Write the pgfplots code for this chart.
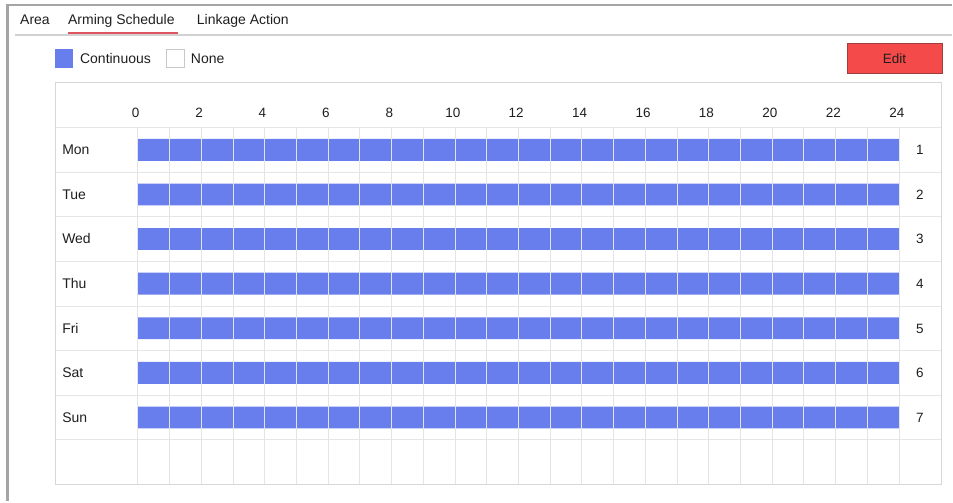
\documentclass[border=0pt]{standalone}
\usepackage{pgfplots}
\pgfplotsset{compat=1.18}
\usepackage{fontspec}
\setmainfont{Liberation Sans}
\definecolor{barblue}{RGB}{104,126,236}
\definecolor{editred}{RGB}{245,74,74}
\definecolor{editborder}{RGB}{160,62,62}
\definecolor{tabred}{RGB}{222,84,96}
\definecolor{gridc}{RGB}{230,230,230}
\definecolor{txt}{RGB}{30,30,30}
\begin{document}
\begin{tikzpicture}[x=1pt,y=1pt]
\path (0,0) rectangle (953,502);
% outer panel border
\draw[color={rgb,255:red,165;green,165;blue,165}, line width=2.2pt] (6.5,497) -- (953,497);
\draw[color={rgb,255:red,165;green,165;blue,165}, line width=2.2pt] (7.5,498) -- (7.5,0);
% tabs
\draw[color={rgb,255:red,210;green,210;blue,210}, line width=1.2pt] (15,467) -- (953,467);
\draw[tabred, line width=2pt] (68,469) -- (178,469);
\node[anchor=base west, inner sep=0pt, text=txt, font=\fontsize{14}{16}\selectfont] at (20,477) {Area};
\node[anchor=base west, inner sep=0pt, text=txt, font=\fontsize{14}{16}\selectfont] at (68,477) {Arming Schedule};
\node[anchor=base west, inner sep=0pt, text=txt, font=\fontsize{14}{16}\selectfont] at (197,477) {Linkage Action};
% legend
\fill[barblue] (55,434) rectangle (73,453);
\node[anchor=base west, inner sep=0pt, text=txt, font=\fontsize{14}{16}\selectfont] at (80,438.5) {Continuous};
\draw[color={rgb,255:red,200;green,200;blue,200}, fill=white, line width=0.8pt] (166.5,434.5) rectangle (184.5,452.5);
\node[anchor=base west, inner sep=0pt, text=txt, font=\fontsize{14}{16}\selectfont] at (191,438.5) {None};
% edit button
\draw[fill=editred, draw=editborder, line width=0.8pt] (848.5,428.5) rectangle (943,459);
\node[anchor=base, inner sep=0pt, text=txt, font=\fontsize{13.5}{15}\selectfont] at (895.5,438.7) {Edit};
% schedule table
\begin{axis}[
  at={(56pt,17pt)}, anchor=south west,
  scale only axis, width=887pt, height=402pt,
  xmin=-2.583, xmax=25.354, ymin=-0.5, ymax=8.5,
  y dir=reverse,
  axis line style={color={rgb,255:red,215;green,215;blue,215}, line width=1pt},
  xtick=\empty,
  ytick={0.5,1.5,2.5,3.5,4.5,5.5,6.5,7.5},
  yticklabels={},
  major tick length=0pt,
  ymajorgrids,
  major grid style={gridc, line width=0.9pt},
  clip=false,
]
\addplot[xbar, bar width=0.49, fill=barblue, draw=none] coordinates {
  (24,1) (24,2) (24,3) (24,4) (24,5) (24,6) (24,7)
};
\pgfplotsinvokeforeach{0,1,...,24}{
  \draw[color={rgb,255:red,228;green,228;blue,232}, line width=0.9pt] (axis cs:#1,0.5) -- (axis cs:#1,8.5);
}
\pgfplotsinvokeforeach{0,2,...,24}{
  \node[anchor=base, inner sep=0pt, text=txt, font=\fontsize{13.5}{15}\selectfont] at (axis cs:#1-0.07,0.27) {#1};
}
\node[anchor=base west, inner sep=0pt, text=txt, font=\fontsize{14}{16}\selectfont] at (axis cs:-2.39,1.11) {Mon};
\node[anchor=base west, inner sep=0pt, text=txt, font=\fontsize{14}{16}\selectfont] at (axis cs:-2.39,2.11) {Tue};
\node[anchor=base west, inner sep=0pt, text=txt, font=\fontsize{14}{16}\selectfont] at (axis cs:-2.39,3.11) {Wed};
\node[anchor=base west, inner sep=0pt, text=txt, font=\fontsize{14}{16}\selectfont] at (axis cs:-2.39,4.11) {Thu};
\node[anchor=base west, inner sep=0pt, text=txt, font=\fontsize{14}{16}\selectfont] at (axis cs:-2.39,5.11) {Fri};
\node[anchor=base west, inner sep=0pt, text=txt, font=\fontsize{14}{16}\selectfont] at (axis cs:-2.39,6.11) {Sat};
\node[anchor=base west, inner sep=0pt, text=txt, font=\fontsize{14}{16}\selectfont] at (axis cs:-2.39,7.11) {Sun};
\pgfplotsinvokeforeach{1,...,7}{
  \node[anchor=base, inner sep=0pt, text=txt, font=\fontsize{13.5}{15}\selectfont] at (axis cs:24.66,#1+0.11) {#1};
}
\end{axis}
\end{tikzpicture}
\end{document}
